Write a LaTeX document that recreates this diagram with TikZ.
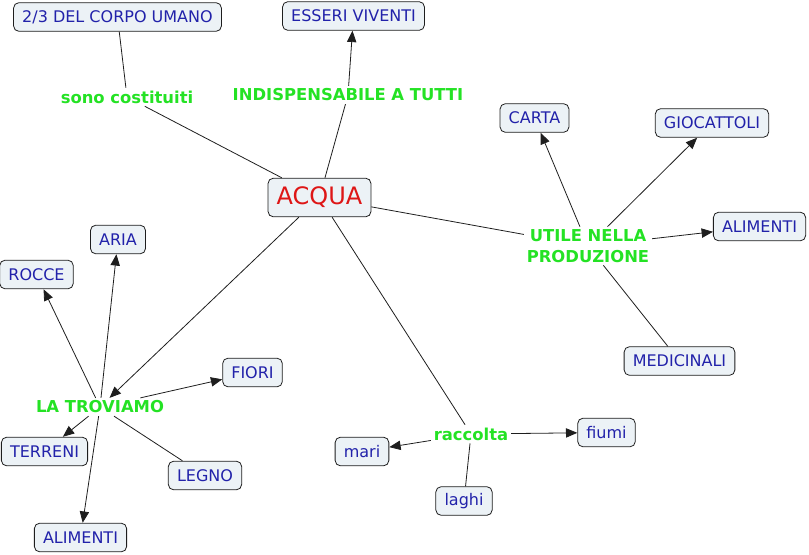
\documentclass[tikz,border=0pt]{standalone}
\usepackage{fontspec}
\setmainfont{DejaVu Sans}
\usetikzlibrary{arrows.meta}
\definecolor{ConceptBlue}{RGB}{34,34,170}
\definecolor{ConceptFill}{RGB}{236,242,246}
\definecolor{LinkGreen}{RGB}{36,226,36}
\definecolor{WaterRed}{RGB}{222,22,22}
\definecolor{EdgeGray}{RGB}{30,30,30}

\begin{document}
\begin{tikzpicture}[x=0.75pt,y=-0.75pt,
  cbox/.style={draw=EdgeGray,fill=ConceptFill,rounded corners=4pt,line width=0.6pt,minimum height=21.5pt,inner xsep=6.5pt,text=ConceptBlue,font=\fontsize{12}{14}\selectfont},
  lnk/.style={text=LinkGreen,font=\fontsize{12.3}{15.5}\selectfont\bfseries,inner sep=2pt,align=center},
  edge/.style={draw=EdgeGray,line width=0.6pt},
  >={Triangle[length=8.5pt,width=7pt]}]
\useasboundingbox (0,0) rectangle (809,554);
% concetto centrale
\node[cbox,text=WaterRed,minimum height=29pt,font=\fontsize{18}{20}\selectfont] (acqua) at (319.5,197.5) {ACQUA};
% in alto
\node[cbox] (corpo) at (117.5,17) {2/3 DEL CORPO UMANO};
\node[cbox] (esseri) at (353.5,16) {ESSERI VIVENTI};
\node[lnk] (costit) at (127,97) {sono costituiti};
\node[lnk] (indisp) at (348,95) {INDISPENSABILE A TUTTI};
% a destra
\node[lnk] (utile) at (588,246) {UTILE NELLA\\PRODUZIONE};
\node[cbox] (carta) at (534.5,118) {CARTA};
\node[cbox] (gioc) at (712,123) {GIOCATTOLI};
\node[cbox] (alimr) at (759.5,226.5) {ALIMENTI};
\node[cbox] (medic) at (679.5,361) {MEDICINALI};
% a sinistra
\node[lnk] (trov) at (100,407) {LA TROVIAMO};
\node[cbox] (aria) at (118,239.5) {ARIA};
\node[cbox] (rocce) at (36.5,274.5) {ROCCE};
\node[cbox] (fiori) at (252.5,372.5) {FIORI};
\node[cbox] (terreni) at (44.5,451.5) {TERRENI};
\node[cbox] (legno) at (205,475.5) {LEGNO};
\node[cbox] (aliml) at (80.5,537.5) {ALIMENTI};
% in basso
\node[lnk] (racc) at (471,434) {raccolta};
\node[cbox] (mari) at (362,451.5) {mari};
\node[cbox] (fiumi) at (606.5,432.5) {fiumi};
\node[cbox] (laghi) at (464,501) {laghi};
% collegamenti
\draw[edge] (acqua)--(costit);\draw[edge] (costit)--(corpo);
\draw[edge] (acqua)--(indisp);\draw[edge,->] (indisp)--(esseri);
\draw[edge] (acqua)--(utile);
\draw[edge,->] (utile)--(carta);\draw[edge,->] (utile)--(gioc);\draw[edge,->] (utile)--(alimr);\draw[edge] (utile)--(medic);
\draw[edge,->] (acqua)--(trov);
\draw[edge,->] (trov)--(aria);\draw[edge,->] (trov)--(rocce);\draw[edge,->] (trov)--(fiori);
\draw[edge,->] (trov)--(terreni);\draw[edge] (trov)--(legno);\draw[edge,->] (trov)--(aliml);
\draw[edge] (acqua)--(racc);
\draw[edge,->] (racc)--(mari);\draw[edge,->] (racc)--(fiumi);\draw[edge] (racc)--(laghi);
\end{tikzpicture}
\end{document}
